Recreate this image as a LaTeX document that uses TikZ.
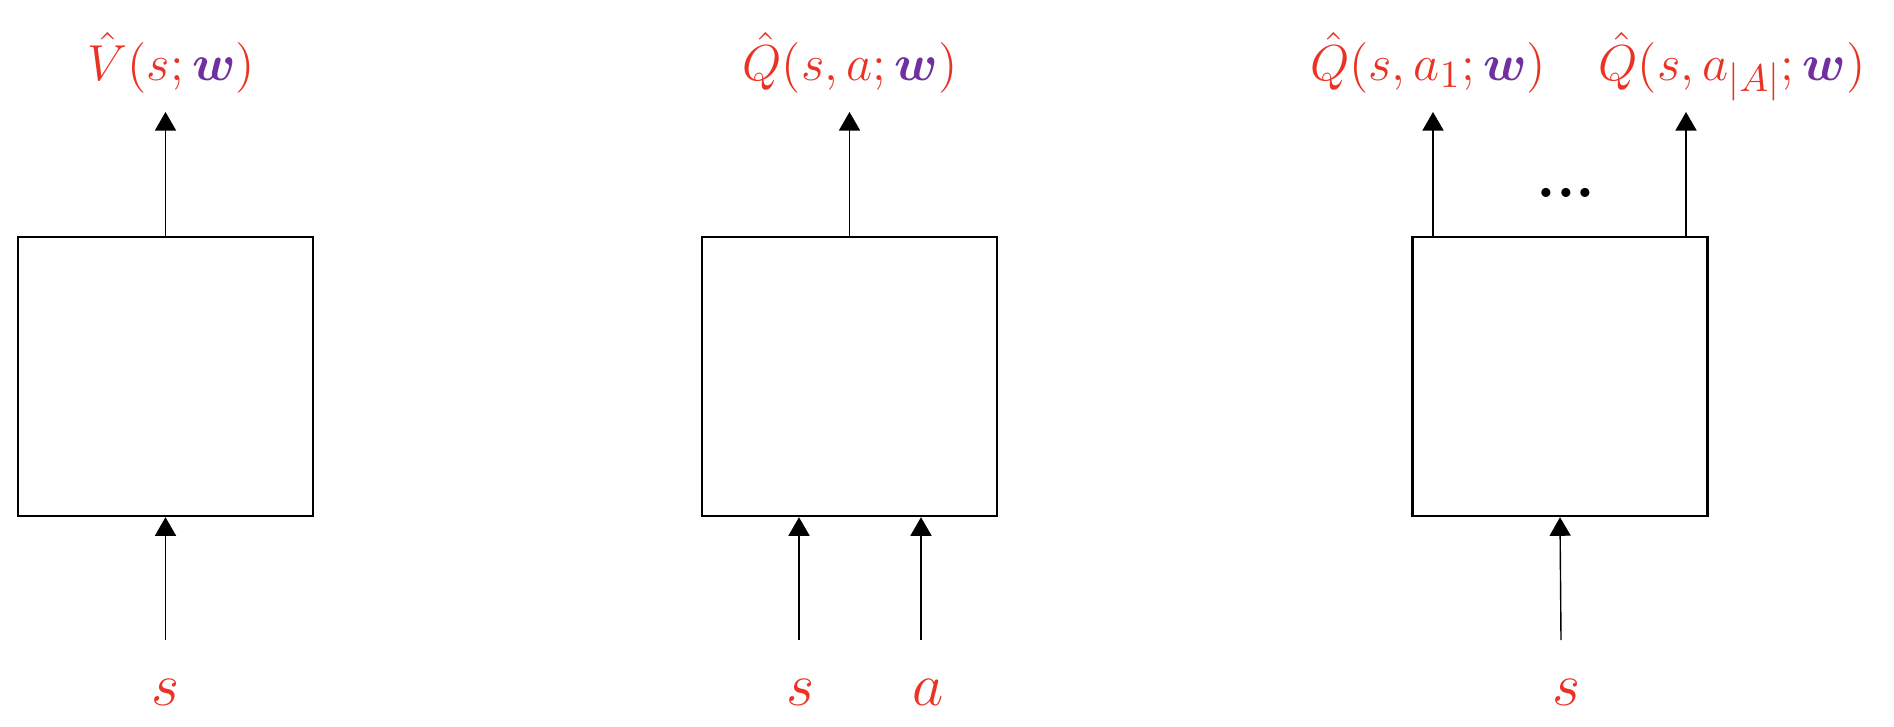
\documentclass[tikz,border=0pt]{standalone}
\usepackage{amsmath}
\usepackage{amssymb}
\usepackage{tikz}
\usetikzlibrary{arrows}

\definecolor{outred}{RGB}{234,51,36}
\definecolor{wpurple}{RGB}{112,48,160}
\newcommand{\wvec}{\textcolor{wpurple}{\boldsymbol{w}}}

\tikzset{
	netbox/.style={draw,line width=0.7pt,minimum width=2.95cm,minimum height=2.79cm,inner sep=0pt},
	arr/.style={-triangle 60,line width=0.4pt},
	lbl/.style={text=outred,font=\fontsize{15.5}{18}\selectfont,inner sep=0pt,anchor=base},
	inlbl/.style={lbl,font=\fontsize{18}{21}\selectfont},
}

\begin{document}
\begin{tikzpicture}
		\useasboundingbox (0,0) rectangle (18.94,7.26);

		% V(s;w)
		\node[netbox] (vnet) at (1.655,3.495) {};
		\coordinate (vtip) at (1.655,6.14);
		\coordinate (vfrom) at (1.655,0.86);
		\draw[arr] (vnet.north) -- (vtip);
		\draw[arr] (vfrom) -- (vnet.south);
		\node[lbl] (vout) at (1.715,6.46) {$\hat{V}(s;\wvec)$};
		\node[inlbl] (vs) at (1.66,0.21) {$s$};

		% Q(s,a;w)
		\node[netbox] (qnet) at (8.495,3.495) {};
		\coordinate (qtip) at (8.495,6.14);
		\coordinate (qsfrom) at (7.99,0.86);
		\coordinate (qafrom) at (9.21,0.86);
		\draw[arr] (qnet.north) -- (qtip);
		\draw[arr] (qsfrom) -- (qsfrom |- qnet.south);
		\draw[arr] (qafrom) -- (qafrom |- qnet.south);
		\node[lbl] (qout) at (8.50,6.46) {$\hat{Q}(s,a;\wvec)$};
		\node[inlbl] (qs) at (8.00,0.21) {$s$};
		\node[inlbl] (qa) at (9.28,0.21) {$a$};

		% Q(s,a_i;w) for all actions
		\node[netbox] (mnet) at (15.60,3.495) {};
		\coordinate (mfirst) at (14.33,4.89);
		\coordinate (mlast) at (16.86,4.89);
		\draw[arr] (mfirst) -- (14.33,6.14) coordinate (mfirsttip);
		\draw[arr] (mlast) -- (16.86,6.14) coordinate (mlasttip);
		\coordinate (mfrom) at (15.61,0.86);
		\draw[arr] (mfrom) -- (mnet.south);
		\node[lbl] (mout1) at (14.28,6.46) {$\hat{Q}(s,a_1;\wvec)$};
		\node[lbl] (moutA) at (17.32,6.46) {$\hat{Q}(s,a_{|A|};\wvec)$};
		\node[font=\fontsize{18}{21}\selectfont\bfseries,anchor=base] (mdots) at (15.66,5.29) {...};
		\node[inlbl] (ms) at (15.66,0.21) {$s$};
	\end{tikzpicture}
\end{document}
